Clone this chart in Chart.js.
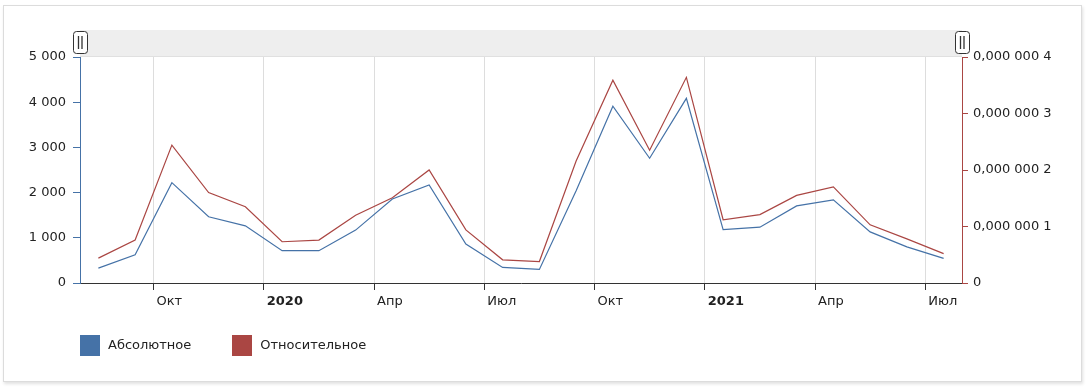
<!DOCTYPE html>
<html>
<head>
<meta charset="utf-8">
<script src="https://cdn.jsdelivr.net/npm/chart.js@4"></script>
<style>
  html, body { margin: 0; padding: 0; background: #fff; }
  #card {
    position: absolute; left: 3px; top: 5px; width: 1077px; height: 375px;
    border: 1px solid #dcdcdc; box-shadow: 1px 2px 3px rgba(0,0,0,0.12);
  }
  #wrap { position: absolute; left: 0; top: 0; width: 1088px; height: 389px; }
  #legend {
    position: absolute; left: 80px; top: 335px;
    font-family: "DejaVu Sans", Verdana, sans-serif; font-size: 13px; color: #222;
  }
  .item { display: inline-block; margin-right: 41px; }
  .sw { display: inline-block; width: 20px; height: 21px; vertical-align: middle; margin-right: 8px; }
</style>
</head>
<body>
<div id="card"></div>
<div id="wrap"><canvas id="chart" width="1088" height="389"></canvas></div>
<div id="legend"></div>
<script>
// месяцы (середина месяца) — август 2019 .. июль 2021
const months = ['2019-08','2019-09','2019-10','2019-11','2019-12',
  '2020-01','2020-02','2020-03','2020-04','2020-05','2020-06','2020-07',
  '2020-08','2020-09','2020-10','2020-11','2020-12',
  '2021-01','2021-02','2021-03','2021-04','2021-05','2021-06','2021-07'];

const absolute = [330, 625, 2220, 1465, 1265, 715, 715, 1170, 1860, 2170, 860, 345,
  300, 2040, 3910, 2760, 4085, 1180, 1235, 1705, 1840, 1130, 800, 545];

const relative = [0.44e-7, 0.76e-7, 2.44e-7, 1.60e-7, 1.35e-7, 0.73e-7, 0.76e-7, 1.20e-7,
  1.51e-7, 2.00e-7, 0.94e-7, 0.41e-7, 0.38e-7, 2.16e-7, 3.59e-7, 2.35e-7, 3.64e-7,
  1.12e-7, 1.21e-7, 1.55e-7, 1.70e-7, 1.03e-7, 0.78e-7, 0.52e-7];

const xTickMonths = ['2019-10','2020-01','2020-04','2020-07','2020-10','2021-01','2021-04','2021-07'];
const xTickLabels = ['Окт','2020','Апр','Июл','Окт','2021','Апр','Июл'];
const yearLabels = ['2020','2021'];

const leftTicks = [0, 1000, 2000, 3000, 4000, 5000];
const rightTicks = ['0','0,000 000 1','0,000 000 2','0,000 000 3','0,000 000 4'];

const seriesNames = ['Абсолютное', 'Относительное'];
const colors = ['#4572A7', '#AA4643'];

// индекс месяца от января 2019
function monthIndex(s) {
  const [y, m] = s.split('-').map(Number);
  return (y - 2019) * 12 + (m - 1);
}
const xTickPos = xTickMonths.map(monthIndex);
const xMin = monthIndex(months[0]);
const xMax = monthIndex(months[months.length - 1]) + 1;

const font = { family: '"DejaVu Sans", Verdana, sans-serif', size: 13 };

// полоса прокрутки сверху
const scrollbar = {
  id: 'scrollbar',
  beforeDraw(chart) {
    const { ctx, chartArea: a } = chart;
    ctx.save();
    ctx.fillStyle = '#eeeeee';
    ctx.fillRect(a.left, 30, a.right - a.left, 26);
    ctx.strokeStyle = '#e0e0e0';
    ctx.beginPath(); ctx.moveTo(a.left, 56.5); ctx.lineTo(a.right, 56.5); ctx.stroke();
    [a.left, a.right].forEach(x => {
      ctx.fillStyle = '#fff';
      ctx.strokeStyle = '#333';
      ctx.lineWidth = 1;
      ctx.beginPath();
      ctx.roundRect(x - 6.5, 31.5, 14, 22, 3);
      ctx.fill(); ctx.stroke();
      ctx.lineWidth = 1.3;
      ctx.beginPath();
      ctx.moveTo(x - 1.5, 36); ctx.lineTo(x - 1.5, 49);
      ctx.moveTo(x + 2, 36); ctx.lineTo(x + 2, 49);
      ctx.stroke();
    });
    ctx.restore();
  }
};

new Chart(document.getElementById('chart'), {
  type: 'line',
  data: {
    datasets: [{
      label: seriesNames[0],
      data: months.map((m, i) => ({ x: monthIndex(m) + 0.5, y: absolute[i] })),
      borderColor: colors[0],
      backgroundColor: colors[0],
      borderWidth: 1.2,
      pointRadius: 0,
      yAxisID: 'y'
    }, {
      label: seriesNames[1],
      data: months.map((m, i) => ({ x: monthIndex(m) + 0.5, y: relative[i] })),
      borderColor: colors[1],
      backgroundColor: colors[1],
      borderWidth: 1.2,
      pointRadius: 0,
      yAxisID: 'y1'
    }]
  },
  options: {
    responsive: false,
    animation: false,
    layout: { padding: { top: 57, bottom: 0, left: 0, right: 0 } },
    plugins: { legend: { display: false }, tooltip: { enabled: false } },
    scales: {
      x: {
        type: 'linear',
        min: xMin,
        max: xMax,
        afterBuildTicks: s => { s.ticks = xTickPos.map(v => ({ value: v })); },
        afterFit: s => { s.height = 106; },
        grid: { color: '#dddddd', tickColor: '#333', tickLength: 7 },
        border: { color: '#333' },
        ticks: {
          align: 'start',
          labelOffset: 3,
          padding: 4,
          maxRotation: 0,
          autoSkip: false,
          color: '#222',
          callback: v => xTickLabels[xTickPos.indexOf(v)],
          font: ctx => {
            const lbl = xTickLabels[xTickPos.indexOf(ctx.tick && ctx.tick.value)];
            return Object.assign({}, font, { weight: yearLabels.includes(lbl) ? 'bold' : 'normal' });
          }
        }
      },
      y: {
        position: 'left',
        min: 0, max: 5000,
        afterBuildTicks: s => { s.ticks = leftTicks.map(v => ({ value: v })); },
        afterFit: s => { s.width = 80; },
        grid: { drawOnChartArea: false, color: '#4572A7', tickLength: 7 },
        border: { color: '#4572A7' },
        ticks: {
          padding: 7,
          color: '#222',
          font: font,
          callback: v => String(v).replace(/\B(?=(\d{3})+(?!\d))/g, ' ')
        }
      },
      y1: {
        position: 'right',
        min: 0, max: 4e-7,
        afterBuildTicks: s => { s.ticks = rightTicks.map((t, i) => ({ value: i * 1e-7 })); },
        afterFit: s => { s.width = 126; },
        grid: { drawOnChartArea: false, color: '#AA4643', tickLength: 6 },
        border: { color: '#AA4643' },
        ticks: {
          padding: 5,
          color: '#222',
          font: font,
          callback: v => rightTicks[Math.round(v * 1e7)]
        }
      }
    }
  },
  plugins: [scrollbar]
});

// легенда
document.getElementById('legend').innerHTML = seriesNames.map((n, i) =>
  '<span class="item"><span class="sw" style="background:' + colors[i] + '"></span>' + n + '</span>'
).join('');
</script>
</body>
</html>
